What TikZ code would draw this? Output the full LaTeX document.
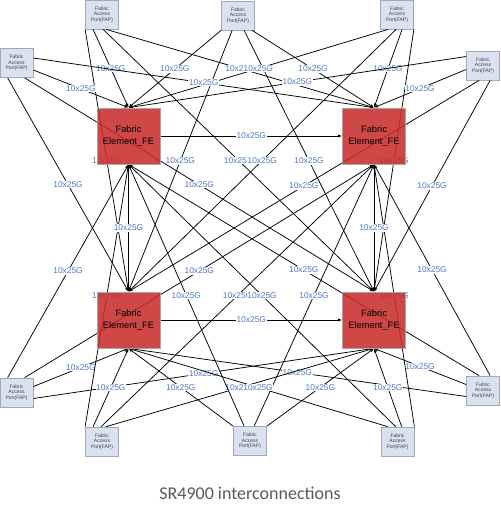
\documentclass[tikz,border=0pt]{standalone}
\usepackage{fontspec}
\setmainfont{Liberation Sans}
\newfontfamily\capfont{Carlito}
\usetikzlibrary{arrows.meta}
\definecolor{fecol}{RGB}{200,45,45}
\definecolor{fapcol}{RGB}{218,226,242}
\definecolor{fapline}{RGB}{160,168,186}
\definecolor{lblblue}{RGB}{80,120,200}
\definecolor{capgray}{RGB}{89,89,89}
\pgfdeclarelayer{front}
\pgfsetlayers{main,front}
\tikzset{every path/.style={line width=0.75pt},
  fe/.style={draw=black!35, fill=fecol, fill opacity=0.88, text opacity=1, minimum width=63pt, minimum height=56pt, inner sep=0pt, align=center, font=\fontsize{9.3}{12}\selectfont},
  fap/.style={draw=fapline, fill=fapcol, minimum width=33pt, minimum height=29pt, inner sep=0pt, align=center, text=black!75, font=\fontsize{5}{5.7}\selectfont},
  link/.style={black, -{Latex[length=4pt,width=3.2pt]}},
  lbl/.style={fill=white, inner sep=0.6pt, text=lblblue, font=\fontsize{8.4}{10}\selectfont}}

\begin{document}
\begin{tikzpicture}[x=1pt,y=-1pt]
  \useasboundingbox (0,0) rectangle (500,516);
  \begin{pgfonlayer}{front}
    \node[fe] (fe1) at (128.5,136) {Fabric\\Element\_FE};
    \node[fe] (fe2) at (374,136)   {Fabric\\Element\_FE};
    \node[fe] (fe3) at (128.5,320) {Fabric\\Element\_FE};
    \node[fe] (fe4) at (374,320)   {Fabric\\Element\_FE};
  \end{pgfonlayer}
  \node[fap] (t1) at (102,14.5)    {Fabric\\Access\\Port(FAP)};
  \node[fap] (t2) at (238,15.5)    {Fabric\\Access\\Port(FAP)};
  \node[fap] (t3) at (397,14.5)    {Fabric\\Access\\Port(FAP)};
  \node[fap] (l1) at (16.5,63)     {Fabric\\Access\\Port(FAP)};
  \node[fap] (r1) at (483,65.5)    {Fabric\\Access\\Port(FAP)};
  \node[fap] (l2) at (16.5,392.5)  {Fabric\\Access\\Port(FAP)};
  \node[fap] (r2) at (483,390.5)   {Fabric\\Access\\Port(FAP)};
  \node[fap] (b1) at (102,441.5)   {Fabric\\Access\\Port(FAP)};
  \node[fap] (b2) at (250,441)     {Fabric\\Access\\Port(FAP)};
  \node[fap] (b3) at (397.5,441.5) {Fabric\\Access\\Port(FAP)};
  % upper ports
  \draw[link] (t1.south west)             -- node[lbl] {10x25G} (fe3.north);
  \draw[link] ([xshift=8pt]t1.south west)  -- node[lbl] {10x25G} (fe1.north);
  \draw[link] ([xshift=18pt]t1.south west) -- node[lbl] {10x25G} (fe4.north);
  \draw[link] ([xshift=21pt]t1.south west) -- node[lbl] {10x25G} (fe2.north);
  \draw[link] (t2.south west)             -- node[lbl] {10x25G} (fe1.north);
  \draw[link] ([xshift=11pt]t2.south west) -- node[lbl] {10x25G} (fe3.north);
  \draw[link] ([xshift=23pt]t2.south west) -- node[lbl] {10x25G} (fe4.north);
  \draw[link] ([xshift=31pt]t2.south west) -- node[lbl] {10x25G} (fe2.north);
  \draw[link] ([xshift=8pt]t3.south west)  -- node[lbl] {10x25G} (fe1.north);
  \draw[link] ([xshift=16pt]t3.south west) -- node[lbl] {10x25G} (fe3.north);
  \draw[link] ([xshift=22pt]t3.south west) -- node[lbl] {10x25G} (fe2.north);
  \draw[link] (t3.south east)             -- node[lbl] {10x25G} (fe4.north);
  \draw[link] ([yshift=5pt]l1.east)        -- node[lbl] {10x25G} (fe2.north);
  \draw[link] ([yshift=-7pt]l1.east)       -- node[lbl] {10x25G} (fe1.north);
  \draw[link] ([xshift=8pt]l1.south west)  -- node[lbl] {10x25G} (fe3.north);
  \draw[link] ([xshift=25pt]l1.south west) -- node[lbl] {10x25G} (fe4.north);
  \draw[link] ([yshift=9pt]r1.west)        -- node[lbl] {10x25G} (fe1.north);
  \draw[link] ([yshift=-4pt]r1.west)       -- node[lbl] {10x25G} (fe2.north);
  \draw[link] ([xshift=13pt]r1.south west) -- node[lbl] {10x25G} (fe3.north);
  \draw[link] ([xshift=24pt]r1.south west) -- node[lbl] {10x25G} (fe4.north);
  % lower ports
  \draw[link] ([yshift=6pt]l2.east)        -- node[lbl] {10x25G} (fe3.south);
  \draw[link] ([yshift=-6pt]l2.east)       -- node[lbl] {10x25G} (fe4.south);
  \draw[link] ([xshift=8pt]l2.north west)  -- node[lbl] {10x25G} (fe1.south);
  \draw[link] ([xshift=25pt]l2.north west) -- node[lbl] {10x25G} (fe2.south);
  \draw[link] ([yshift=6pt]r2.west)        -- node[lbl] {10x25G} (fe4.south);
  \draw[link] ([yshift=-6pt]r2.west)       -- node[lbl] {10x25G} (fe3.south);
  \draw[link] ([xshift=13pt]r2.north west) -- node[lbl] {10x25G} (fe1.south);
  \draw[link] ([xshift=24pt]r2.north west) -- node[lbl] {10x25G} (fe2.south);
  \draw[link] (b1.north west)             -- node[lbl] {10x25G} (fe1.south);
  \draw[link] ([xshift=8pt]b1.north west)  -- node[lbl] {10x25G} (fe3.south);
  \draw[link] ([xshift=16pt]b1.north west) -- node[lbl] {10x25G} (fe2.south);
  \draw[link] ([xshift=21pt]b1.north west) -- node[lbl] {10x25G} (fe4.south);
  \draw[link] (b2.north west)             -- node[lbl] {10x25G} (fe3.south);
  \draw[link] ([xshift=11pt]b2.north west) -- node[lbl] {10x25G} (fe1.south);
  \draw[link] ([xshift=21pt]b2.north west) -- node[lbl] {10x25G} (fe2.south);
  \draw[link] (b2.north east)             -- node[lbl] {10x25G} (fe4.south);
  \draw[link] ([xshift=7pt]b3.north west)  -- node[lbl] {10x25G} (fe3.south);
  \draw[link] ([xshift=15pt]b3.north west) -- node[lbl] {10x25G} (fe1.south);
  \draw[link] ([xshift=21pt]b3.north west) -- node[lbl] {10x25G} (fe4.south);
  \draw[link] (b3.north east)             -- node[lbl] {10x25G} (fe2.south);
  % between the elements
  \draw[link] (fe1.east)  -- node[lbl] {10x25G} (fe2.west);
  \draw[link] (fe3.east)  -- node[lbl] {10x25G} (fe4.west);
  \draw[link] (fe1.south) -- node[lbl] {10x25G} (fe3.north);
  \draw[link] (fe2.south) -- node[lbl] {10x25G} (fe4.north);
  \node[text=capgray, font=\capfont\fontsize{18}{22}\selectfont] (cap) at (250,493) {SR4900 interconnections};
\end{tikzpicture}
\end{document}
